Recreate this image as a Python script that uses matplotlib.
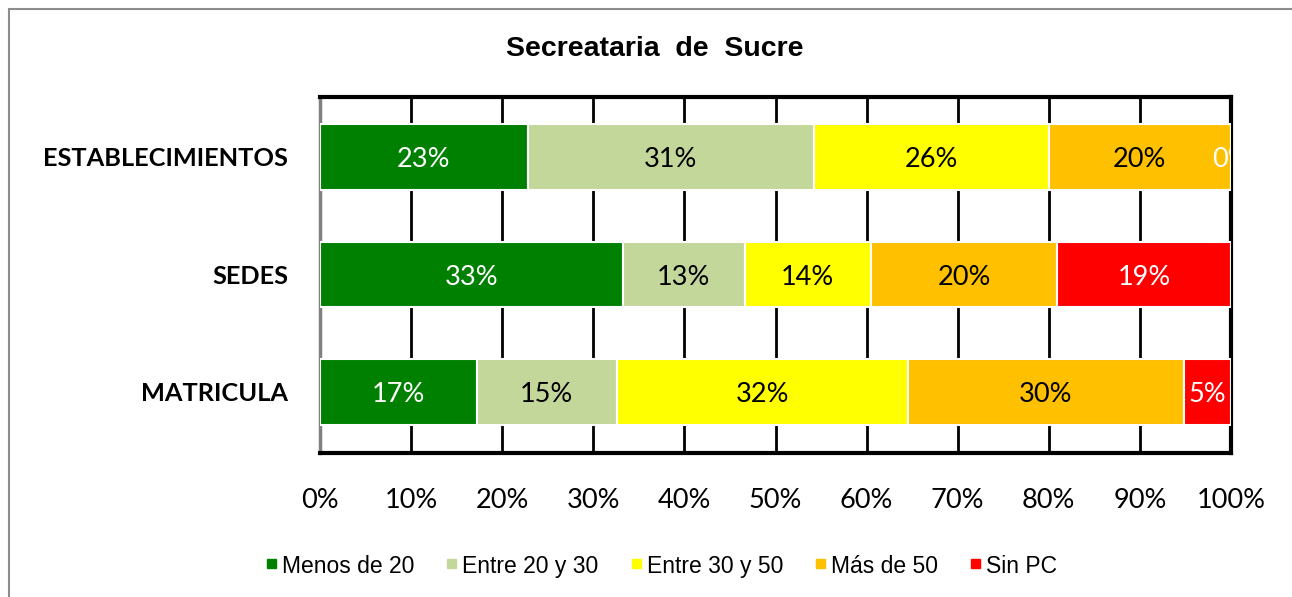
import matplotlib.pyplot as plt
import matplotlib.patches as mpatches
import numpy as np

# datos (porcentajes)
categorias = ['MATRICULA', 'SEDES', 'ESTABLECIMIENTOS']
series = ['Menos de 20', 'Entre 20 y 30', 'Entre 30 y 50', 'Más de 50', 'Sin PC']
menos_20 = [17.2, 33.3, 22.8]
entre_20_30 = [15.4, 13.3, 31.4]
entre_30_50 = [31.9, 13.9, 25.8]
mas_50 = [30.3, 20.4, 20.0]
sin_pc = [5.2, 19.1, 0.0]
ticks_x = [0, 10, 20, 30, 40, 50, 60, 70, 80, 90, 100]

colores = ['#008000', '#C4D79B', '#FFFF00', '#FFC000', '#FF0000']

W, H = 1292, 597
fig = plt.figure(figsize=(W/100, H/100), dpi=100)
ax = fig.add_axes([320/W, 1-453/H, 911/W, 356/H])

valores = [menos_20, entre_20_30, entre_30_50, mas_50, sin_pc]
y = np.arange(len(categorias))
izq = np.zeros(len(categorias))
for i, v in enumerate(valores):
    v = np.array(v)
    ax.barh(y, v, left=izq, height=0.56, color=colores[i], edgecolor='white',
            linewidth=1.5, label=series[i], zorder=3)
    for j in range(len(y)):
        # blanco sobre verde/rojo, negro sobre el resto (el 0 sale en blanco)
        c = 'black' if i in (1, 2, 3) and v[j] > 0 else 'white'
        ax.text(izq[j] + v[j]/2, y[j] - 0.025, '%.0f%%' % v[j], ha='center', va='center',
                fontsize=19.5, color=c, family='Lato', zorder=4, clip_on=True)
    izq = izq + v

ax.set_xlim(0, 100)
ax.set_ylim(-0.52, 2.51)
ax.set_xticks(ticks_x)
ax.set_xticklabels(['%d%%' % t for t in ticks_x], family='Lato', fontsize=19.5)
ax.set_yticks(y)
ax.set_yticklabels(categorias, family='Lato', fontweight='bold', fontsize=18.3)
ax.tick_params(axis='both', length=0)
ax.tick_params(axis='x', pad=25)
ax.tick_params(axis='y', pad=23)

for t in ticks_x[1:-1]:
    ax.axvline(t, color='black', lw=2, zorder=1)

for s in ['top', 'right', 'bottom']:
    ax.spines[s].set_linewidth(3)
    ax.spines[s].set_color('black')
ax.spines['left'].set_linewidth(2.5)
ax.spines['left'].set_color('#808080')

fig.text(655/W, 1-49/H, 'Secreataria  de  Sucre', ha='center', va='center',
         fontsize=20.5, fontweight='bold', family='Liberation Sans')

# leyenda a mano (misma linea base para todos los textos)
rend = fig.canvas.get_renderer()
x = 267
for i, s in enumerate(series):
    fig.patches.append(mpatches.Rectangle((x/W, 1-568/H), 9/W, 9/H, transform=fig.transFigure,
                                          color=colores[i]))
    t = fig.text((x + 15)/W, 1-573/H, s, ha='left', va='baseline',
                 fontsize=16.5, family='Liberation Sans')
    ancho = t.get_window_extent(renderer=rend).width
    x = x + 15 + ancho + 33

borde = mpatches.Rectangle((9/W, -0.1), 1.2, 1.1 - 9/H, transform=fig.transFigure,
                           fill=False, edgecolor='#8c8c8c', lw=1.5, clip_on=False)
fig.patches.append(borde)

fig.savefig('out.png', dpi=100)
